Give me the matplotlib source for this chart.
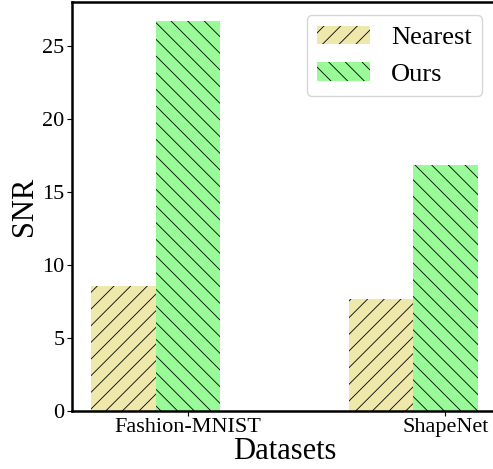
import numpy as np
import matplotlib.pyplot as plt

plt.rcParams['font.family'] = ['Liberation Serif', 'DejaVu Serif']
plt.rcParams['hatch.linewidth'] = 0.6

datasets = ['Fashion-MNIST', 'ShapeNet']
nearest = [8.55, 7.65]
ours = [26.7, 16.85]

x = np.arange(len(datasets))
width = 0.25

fig = plt.figure(figsize=(4.93, 4.69), dpi=100)
ax = fig.add_axes([0.146, 0.124, 0.862, 0.872])

ax.bar(x, nearest, width, color='palegoldenrod', hatch='//', edgecolor='black', linewidth=0, label='Nearest')
ax.bar(x + width, ours, width, color='palegreen', hatch='\\\\', edgecolor='black', linewidth=0, label='Ours')

ax.set_xticks(x + width)
ax.set_xticklabels(datasets, fontsize=16)
ax.tick_params(axis='both', labelsize=16, pad=2)
ax.set_xlabel('Datasets', fontsize=22, labelpad=0)
ax.set_ylabel('SNR', fontsize=22, labelpad=2)
for s in ax.spines.values():
    s.set_linewidth(1.8)

ax.legend(fontsize=19, loc='upper right', bbox_to_anchor=(0.997, 1.0))

plt.savefig('out.png', dpi=100)
